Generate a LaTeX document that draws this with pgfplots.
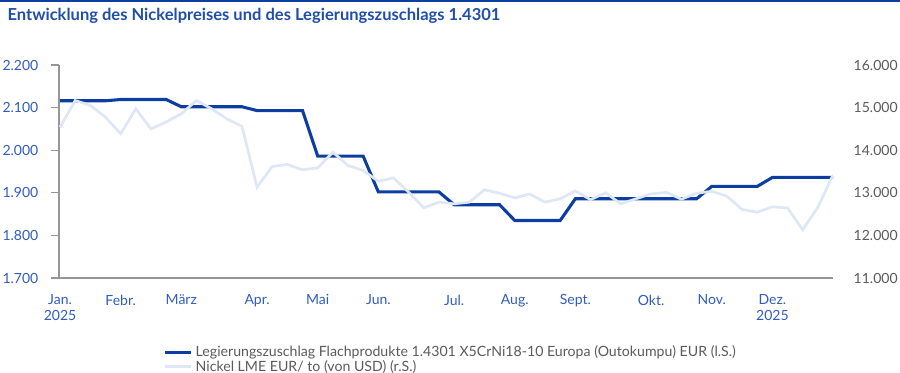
\documentclass[border=0pt]{standalone}
\usepackage{pgfplots}
\pgfplotsset{compat=1.18}
\usepackage{pgfplotstable}
\usepackage{fontspec}
\setmainfont{Lato}
\definecolor{lzblue}{RGB}{12,62,162}
\definecolor{nilight}{RGB}{222,231,245}
\definecolor{titleblue}{RGB}{30,78,170}
\definecolor{tickblue}{RGB}{48,92,192}
\definecolor{axisgray}{RGB}{150,150,150}
\definecolor{textgray}{RGB}{90,90,90}

\pgfplotstableread{
w lz
0 2116
1 2116
2 2116
3 2116
4 2119
5 2119
6 2119
7 2119
8 2102
9 2102
10 2102
11 2102
12 2102
13 2093
14 2093
15 2093
16 2093
17 1986
18 1986
19 1986
20 1986
21 1902
22 1902
23 1902
24 1902
25 1902
26 1872
27 1872
28 1872
29 1872
30 1835
31 1835
32 1835
33 1835
34 1886
35 1886
36 1886
37 1886
38 1886
39 1886
40 1886
41 1886
42 1886
43 1915
44 1915
45 1915
46 1915
47 1936
48 1936
49 1936
50 1936
51 1936
}\lztable

\pgfplotstableread{
w ni
0 14540
1 15167
2 15050
3 14775
4 14385
5 14972
6 14500
7 14660
8 14855
9 15167
10 14972
11 14737
12 14560
13 13132
14 13618
15 13665
16 13540
17 13587
18 13953
19 13640
20 13524
21 13270
22 13350
23 13015
24 12648
25 12780
26 12740
27 12780
28 13070
29 12990
30 12880
31 12970
32 12780
33 12860
34 13045
35 12840
36 13000
37 12740
38 12860
39 12975
40 13010
41 12850
42 12990
43 13035
44 12920
45 12610
46 12545
47 12670
48 12645
49 12130
50 12660
51 13420
}\nitable

\begin{document}
\begin{tikzpicture}
\path[use as bounding box] (0,0) rectangle (675pt,279.75pt);
\fill[lzblue] (0,278.25pt) rectangle (675pt,279.75pt);
\node[anchor=base west, text=titleblue, font=\bfseries\fontsize{12.4}{14}\selectfont, inner sep=0pt] at (5.5pt,264.5pt) {Entwicklung des Nickelpreises und des Legierungszuschlags 1.4301};

\begin{axis}[
  at={(44.25pt,71.25pt)}, anchor=south west,
  scale only axis, width=580.5pt, height=159.75pt,
  xmin=-0.07, xmax=51, ymin=1700, ymax=2200,
  axis x line*=bottom, axis y line*=left,
  axis line style={axisgray, line width=1pt},
  xtick={0,4,8,13,17,21,26,30,34,39,43,47},
  xticklabels={{Jan.\\2025}, Febr., März, Apr., Mai, Jun., Jul., Aug., Sept., Okt., Nov., {Dez.\\2025}},
  xticklabel style={align=center, text=tickblue, font=\fontsize{10.5}{12}\selectfont, yshift=-3pt},
  x tick style={draw=none},
  ytick={1700,1800,1900,2000,2100,2200},
  yticklabels={1.700,1.800,1.900,2.000,2.100,2.200},
  y tick style={axisgray, line width=1pt},
  tick align=outside, major tick length=6pt,
  yticklabel style={text=tickblue, font=\fontsize{10.5}{12}\selectfont, xshift=-6pt},
  legend style={at={(0.1344,-0.305)}, anchor=north west, draw=none, fill=none,
    font=\fontsize{10.6}{12}\selectfont, text=textgray, inner sep=0pt,
    row sep=-2.9pt},
  legend cell align=left,
  legend image code/.code={\draw[#1] (0pt,0pt) -- (20pt,0pt);},
]
\addplot[lzblue, line width=2.3pt] table[x=w, y=lz] {\lztable};
\addlegendentry{Legierungszuschlag Flachprodukte 1.4301 X5CrNi18-10 Europa (Outokumpu) EUR (l.S.)}
\addlegendimage{nilight, line width=2pt}
\addlegendentry{Nickel LME EUR/ to (von USD) (r.S.)}
\end{axis}

\begin{axis}[
  at={(44.25pt,71.25pt)}, anchor=south west,
  scale only axis, width=580.5pt, height=159.75pt,
  xmin=-0.07, xmax=51, ymin=11000, ymax=16000,
  axis x line=none, axis y line*=right,
  y axis line style={draw=none},
  scaled y ticks=false,
  ytick={11000,12000,13000,14000,15000,16000},
  yticklabels={11.000,12.000,13.000,14.000,15.000,16.000},
  y tick style={draw=none},
  yticklabel style={text=textgray, font=\fontsize{10.5}{12}\selectfont, xshift=12pt},
]
\addplot[nilight, line width=2pt] table[x=w, y=ni] {\nitable};
\end{axis}
\end{tikzpicture}
\end{document}
